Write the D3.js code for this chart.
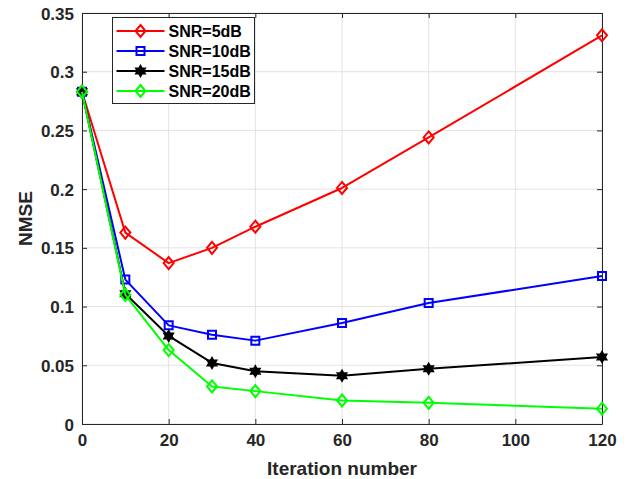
<!DOCTYPE html>
<html>
<head>
<meta charset="utf-8">
<script src="https://cdn.jsdelivr.net/npm/d3@7"></script>
<style>
  body { margin: 0; background: #fff; }
  svg { font-family: "Liberation Sans", Arial, sans-serif; font-weight: bold; }
</style>
</head>
<body>
<svg id="chart" width="630" height="479"></svg>
<script>
const iterations = [0, 10, 20, 30, 40, 60, 80, 120];
const snr5 = [0.283, 0.163, 0.137, 0.150, 0.168, 0.201, 0.244, 0.331];
const snr10 = [0.283, 0.123, 0.084, 0.076, 0.071, 0.086, 0.103, 0.126];
const snr15 = [0.283, 0.111, 0.075, 0.052, 0.045, 0.041, 0.047, 0.057];
const snr20 = [0.283, 0.110, 0.063, 0.032, 0.028, 0.020, 0.018, 0.013];
const seriesNames = ['SNR=5dB', 'SNR=10dB', 'SNR=15dB', 'SNR=20dB'];
const xTicks = [0, 20, 40, 60, 80, 100, 120];
const yTicks = [0, 0.05, 0.1, 0.15, 0.2, 0.25, 0.3, 0.35];

const series = [
  {name: seriesNames[0], values: snr5, color: '#ff0000', marker: 'diamond'},
  {name: seriesNames[1], values: snr10, color: '#0000ff', marker: 'square'},
  {name: seriesNames[2], values: snr15, color: '#000000', marker: 'hexagram'},
  {name: seriesNames[3], values: snr20, color: '#00ff00', marker: 'diamond'}
];

const svg = d3.select('#chart');
const margin = {top: 13, left: 82, right: 28, bottom: 55};
const width = 630 - margin.left - margin.right;
const height = 479 - margin.top - margin.bottom;
const axisColor = '#262626';

const x = d3.scaleLinear().domain([0, 120]).range([0, width]);
const y = d3.scaleLinear().domain([0, 0.35]).range([height, 0]);

const g = svg.append('g').attr('transform', `translate(${margin.left}, ${margin.top})`);

// grid
g.append('g').selectAll('line').data(xTicks).join('line')
  .attr('x1', d => x(d)).attr('x2', d => x(d))
  .attr('y1', 0).attr('y2', height)
  .attr('stroke', '#e3e3e3').attr('stroke-width', 1);
g.append('g').selectAll('line').data(yTicks).join('line')
  .attr('x1', 0).attr('x2', width)
  .attr('y1', d => y(d)).attr('y2', d => y(d))
  .attr('stroke', '#e3e3e3').attr('stroke-width', 1);

// axes
const xAxis = g.append('g').attr('transform', `translate(0, ${height})`)
  .call(d3.axisBottom(x).tickValues(xTicks).tickSizeInner(-5).tickSizeOuter(0).tickPadding(10));
const yAxis = g.append('g')
  .call(d3.axisLeft(y).tickValues(yTicks).tickFormat(d => d3.format('~g')(d))
    .tickSizeInner(-5).tickSizeOuter(0).tickPadding(8));
g.append('g').attr('transform', `translate(${width}, 0)`)
  .call(d3.axisRight(y).tickValues(yTicks).tickFormat('').tickSizeInner(-5).tickSizeOuter(0));
g.append('g')
  .call(d3.axisTop(x).tickValues(xTicks).tickFormat('').tickSizeInner(-5).tickSizeOuter(0));

g.selectAll('.domain').attr('stroke', axisColor).attr('stroke-width', 1);
g.selectAll('.tick line').attr('stroke', axisColor);
g.selectAll('.tick text').attr('fill', axisColor).style('font-size', '17px').style('font-weight', 'bold');
yAxis.selectAll('.tick text').attr('dy', '0.36em');

// markers
function markerPath(type) {
  if (type === 'square') {
    return 'M-4,-4L4,-4L4,4L-4,4Z';
  }
  if (type === 'diamond') {
    return 'M0,-6L5,0L0,6L-5,0Z';
  }
  const pts = [];
  for (let k = 0; k < 12; k++) {
    const a = -Math.PI / 2 + k * Math.PI / 6;
    const r = k % 2 === 0 ? 5 : 2.9;
    pts.push([r * Math.cos(a), r * Math.sin(a)]);
  }
  return d3.line()(pts) + 'Z';
}

const line = d3.line().x(d => x(d[0])).y(d => y(d[1]));

series.forEach(s => {
  const pts = iterations.map((it, i) => [it, s.values[i]]);
  g.append('path')
    .datum(pts)
    .attr('d', line)
    .attr('fill', 'none')
    .attr('stroke', s.color)
    .attr('stroke-width', 2)
    .attr('stroke-linejoin', 'round');
  g.append('g').selectAll('path').data(pts).join('path')
    .attr('transform', d => `translate(${x(d[0])}, ${y(d[1])})`)
    .attr('d', markerPath(s.marker))
    .attr('fill', s.marker === 'hexagram' ? s.color : 'none')
    .attr('stroke', s.color)
    .attr('stroke-width', 2);
});

// axis labels
svg.append('text')
  .attr('x', margin.left + width / 2)
  .attr('y', 475)
  .attr('text-anchor', 'middle')
  .attr('fill', axisColor)
  .style('font-size', '19px')
  .text('Iteration number');

svg.append('text')
  .attr('transform', `translate(32, ${margin.top + height / 2}) rotate(-90)`)
  .attr('text-anchor', 'middle')
  .attr('fill', axisColor)
  .style('font-size', '19px')
  .text('NMSE');

// legend
const legend = svg.append('g').attr('transform', 'translate(112.5, 17.5)');
legend.append('rect')
  .attr('width', 142)
  .attr('height', 86)
  .attr('fill', '#fff')
  .attr('stroke', axisColor)
  .attr('stroke-width', 1);

series.forEach((s, i) => {
  const row = legend.append('g').attr('transform', `translate(0, ${13.5 + i * 20})`);
  row.append('line')
    .attr('x1', 4).attr('x2', 52)
    .attr('stroke', s.color).attr('stroke-width', 2);
  row.append('path')
    .attr('transform', 'translate(28, 0)')
    .attr('d', markerPath(s.marker))
    .attr('fill', s.marker === 'hexagram' ? s.color : 'none')
    .attr('stroke', s.color)
    .attr('stroke-width', 2);
  row.append('text')
    .attr('x', 56)
    .attr('dy', '0.36em')
    .attr('fill', '#000')
    .style('font-size', '16px')
    .text(s.name);
});
</script>
</body>
</html>
